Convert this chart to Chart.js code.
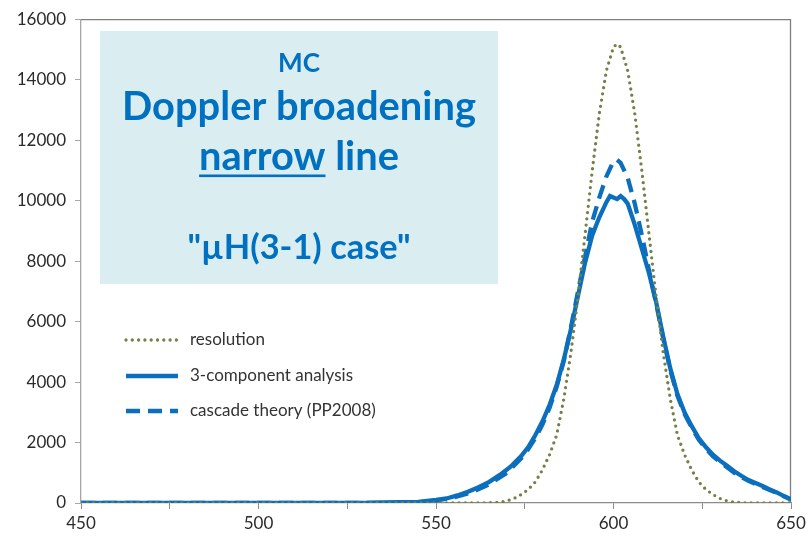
<!DOCTYPE html>
<html>
<head>
<meta charset="utf-8">
<script src="https://cdn.jsdelivr.net/npm/chart.js@4/dist/chart.umd.min.js"></script>
<style>
  html, body { margin: 0; padding: 0; background: #fff; }
</style>
</head>
<body>
<canvas id="doppler" width="811" height="540"></canvas>
<script>
// energy channel (x) and counts (y) for each curve
const resX = [450, 560, 566, 568, 570, 572, 574, 576, 578, 580, 582, 584, 586, 588, 590, 592, 594, 596, 598, 600, 601,
  602, 604, 606, 608, 610, 612, 614, 616, 618, 620, 622, 624, 626, 628, 630, 632, 634, 636, 640, 650];
const resY = [0, 0, 10, 30, 70, 150, 280, 450, 700, 1100, 1600, 2250, 3440, 4970, 6830, 8890, 10980, 12870, 14300, 15080, 15180,
  15080, 14300, 12870, 10980, 8890, 6830, 4970, 3440, 2250, 1600, 1100, 700, 450, 280, 150, 70, 30, 10, 0, 0];

const threeX = [450, 530, 535, 540, 545, 550, 553, 556, 559, 562, 565, 568, 571, 574, 576, 578, 580, 582, 584, 586, 588, 590,
  592, 594, 596, 598, 599, 600, 601, 602, 603, 604, 606, 608, 610, 612, 614, 616, 618, 620, 622, 624, 626, 628, 630,
  632, 634, 636, 638, 640, 642, 644, 646, 648, 650];
const threeY = [0, 0, 20, 30, 40, 100, 150, 250, 370, 520, 700, 930, 1200, 1550, 1850, 2250, 2700, 3250, 3900, 4750, 5750, 6850,
  7950, 8850, 9450, 9950, 10150, 10100, 10050, 10150, 10050, 9900, 9200, 8400, 7600, 6650, 5500, 4450, 3600, 3000, 2550,
  2150, 1850, 1600, 1400, 1230, 1050, 900, 760, 660, 560, 450, 350, 230, 120];

const cascX = [450, 540, 545, 550, 555, 560, 565, 570, 575, 578, 580, 582, 584, 586, 588, 590, 592, 594, 596, 598, 600, 601,
  602, 604, 606, 608, 610, 612, 614, 616, 618, 620, 622, 624, 626, 628, 630, 632, 634, 636, 638, 640, 642, 644, 646,
  648, 650];
const cascY = [0, 0, 20, 80, 180, 350, 620, 1000, 1600, 2150, 2600, 3150, 3850, 4700, 5800, 7000, 8150, 9300, 10100, 10800,
  11300, 11350, 11250, 10750, 9900, 8850, 7700, 6600, 5450, 4400, 3550, 2950, 2500, 2100, 1800, 1550, 1350, 1180, 1000,
  860, 730, 630, 530, 430, 330, 220, 110];

const seriesNames = ['resolution', '3-component analysis', 'cascade theory (PP2008)'];
const boxLines = ['MC', 'Doppler broadening', 'narrow', ' line', '"\u00b5H(3-1) case"'];

const BLUE = '#0b6fbd';
const OLIVE = '#74804a';
const pts = (xs, ys) => xs.map((x, i) => ({x: x, y: ys[i]}));

// draws a line sample the same way the dataset is stroked
function sample(ctx, ds, x0, x1, y) {
  ctx.save();
  ctx.strokeStyle = ds.borderColor;
  ctx.lineWidth = ds.borderWidth;
  ctx.lineCap = ds.borderCapStyle || 'butt';
  ctx.setLineDash(ds.borderDash || []);
  ctx.beginPath();
  ctx.moveTo(x0, y);
  ctx.lineTo(x1, y);
  ctx.stroke();
  ctx.restore();
}

function fitSize(ctx, text, weight, family, width) {
  ctx.font = weight + ' 100px ' + family;
  return 100 * width / ctx.measureText(text).width;
}

const frame = {
  id: 'frame',
  beforeDatasetsDraw(chart) {
    const ctx = chart.ctx;
    const a = chart.chartArea;
    ctx.save();
    // top and right edges of the plot box
    ctx.strokeStyle = '#7f7f7f';
    ctx.lineWidth = 1.3;
    ctx.beginPath();
    ctx.moveTo(a.left, a.top + 0.5);
    ctx.lineTo(a.right - 0.5, a.top + 0.5);
    ctx.lineTo(a.right - 0.5, a.bottom);
    ctx.stroke();

    // title panel
    ctx.fillStyle = '#daedf0';
    ctx.fillRect(100, 31, 398, 253);
    const cx = 299;
    const fam = 'Lato, "Open Sans", sans-serif';
    ctx.fillStyle = '#0070c0';
    ctx.textBaseline = 'alphabetic';
    ctx.textAlign = 'center';

    let s = fitSize(ctx, boxLines[0], 'bold', fam, 42);
    ctx.font = 'bold ' + s + 'px ' + fam;
    ctx.fillText(boxLines[0], cx, 72);

    s = fitSize(ctx, boxLines[1], 'bold', fam, 354);
    ctx.font = 'bold ' + s + 'px ' + fam;
    ctx.fillText(boxLines[1], cx, 120);

    // "narrow line" with the first word underlined
    ctx.font = 'bold ' + s + 'px ' + fam;
    const w1 = ctx.measureText(boxLines[2]).width;
    const w2 = ctx.measureText(boxLines[3]).width;
    const left = cx - (w1 + w2) / 2;
    ctx.textAlign = 'left';
    ctx.fillText(boxLines[2], left, 170);
    ctx.fillText(boxLines[3], left + w1, 170);
    ctx.fillRect(left, 174.5, w1, 2.6);

    ctx.textAlign = 'center';
    s = fitSize(ctx, boxLines[4], 'bold', fam, 223);
    ctx.font = 'bold ' + s + 'px ' + fam;
    ctx.fillText(boxLines[4], cx, 259);
    ctx.restore();
  },
  afterDraw(chart) {
    const ctx = chart.ctx;
    const rows = [340, 376, 411];
    ctx.save();
    ctx.font = '17px Lato, "Open Sans", sans-serif';
    ctx.fillStyle = '#333';
    ctx.textBaseline = 'middle';
    chart.data.datasets.forEach((ds, i) => {
      sample(ctx, ds, 126, 178, rows[i]);
      ctx.fillText(ds.label, 190, rows[i]);
    });
    ctx.restore();
  }
};

new Chart(document.getElementById('doppler'), {
  type: 'line',
  data: {
    datasets: [
      {
        label: seriesNames[0],
        data: pts(resX, resY),
        borderColor: OLIVE,
        borderWidth: 3.3,
        borderDash: [0, 6.3],
        borderCapStyle: 'round'
      },
      {
        label: seriesNames[1],
        data: pts(threeX, threeY),
        borderColor: BLUE,
        borderWidth: 4.3
      },
      {
        label: seriesNames[2],
        data: pts(cascX, cascY),
        borderColor: BLUE,
        borderWidth: 4.3,
        borderDash: [14, 8]
      }
    ]
  },
  options: {
    responsive: false,
    animation: false,
    elements: {point: {radius: 0}, line: {tension: 0}},
    layout: {padding: {top: 15, right: 20, left: 0, bottom: 0}},
    plugins: {legend: {display: false}, tooltip: {enabled: false}},
    scales: {
      x: {
        type: 'linear',
        min: 450,
        max: 650,
        afterFit: (scale) => { scale.height = 37; },
        border: {color: '#8c8c8c', width: 1.3},
        grid: {drawOnChartArea: false, tickLength: 6, tickColor: '#8c8c8c'},
        ticks: {
          stepSize: 25,
          autoSkip: false,
          maxRotation: 0,
          padding: 4,
          color: '#2b2b2b',
          font: {family: 'Lato, "Open Sans", sans-serif', size: 17},
          callback: (v) => (v % 50 === 0 ? String(v) : '')
        }
      },
      y: {
        min: 0,
        max: 16000,
        afterFit: (scale) => { scale.width = 81; },
        border: {color: '#a6a6a6', width: 1.3},
        grid: {drawOnChartArea: false, tickLength: 6, tickColor: '#a6a6a6'},
        ticks: {
          stepSize: 2000,
          padding: 9,
          color: '#2b2b2b',
          font: {family: 'Lato, "Open Sans", sans-serif', size: 17},
          callback: (v) => String(v)
        }
      }
    }
  },
  plugins: [frame]
});
</script>
</body>
</html>
